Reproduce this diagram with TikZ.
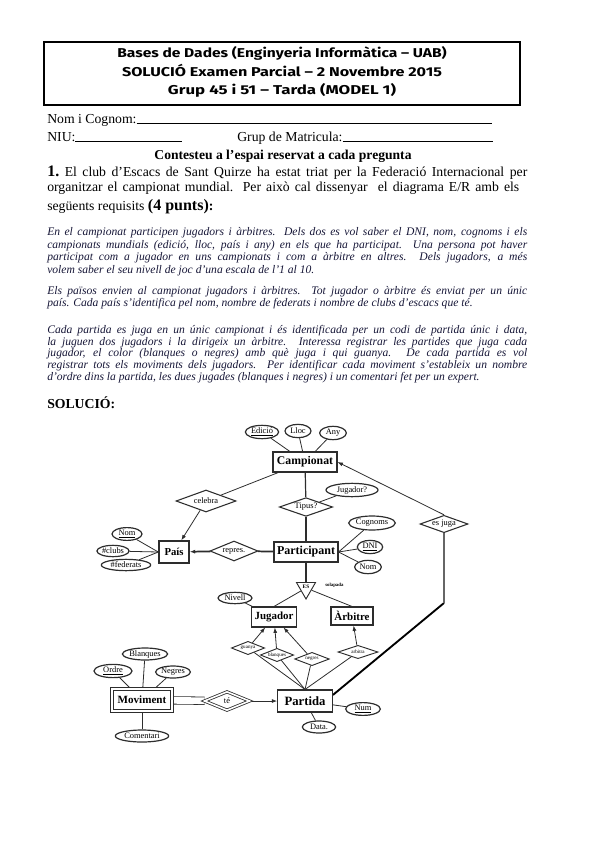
\documentclass[tikz,border=0pt]{standalone}
\usepackage{fontspec}
\setmainfont{Liberation Serif}
\newfontfamily\hdrfont{Fira Sans}
\usetikzlibrary{shapes.geometric,arrows.meta,backgrounds}
\definecolor{itc}{RGB}{22,22,55}
\definecolor{ln}{RGB}{45,45,45}
\begin{document}
\begin{tikzpicture}[x=0.75pt,y=-0.75pt,
  ent/.style={draw=ln, line width=0.8pt, fill=white, rectangle, inner sep=0.5pt},
  attr/.style={draw=ln, line width=0.9pt, fill=white, ellipse, inner sep=0.3pt, font=\fontsize{6.3}{7}\selectfont},
  rel/.style={draw=ln, line width=0.8pt, fill=white, diamond, inner sep=0pt, font=\fontsize{6.3}{7}\selectfont},
  srel/.style={rel, line width=0.7pt, font=\fontsize{3.8}{4}\selectfont, aspect=2.5, minimum height=10pt},
  conn/.style={draw=ln, line width=0.6pt},
  arr/.style={conn, -{Latex[length=4pt,width=3pt]}},
  mtxt/.style={inner sep=0, anchor=base west, font=\fontsize{10.3}{11}\selectfont},
  itl/.style={inner sep=0, anchor=base west, text=itc, font=\fontsize{8.7}{9}\selectfont\itshape},
  hdr/.style={inner sep=0, anchor=base, font=\hdrfont\bfseries\fontsize{9.6}{11}\selectfont},
]
\useasboundingbox (0,0) rectangle (599,848);

% ---------- header ----------
\node[draw, line width=0.8pt, minimum width=357pt, minimum height=47.25pt, inner sep=0] (hbox) at (282,73.5) {};
\node[hdr] (h1) at (282,58) {\resizebox{247pt}{\height}{Bases de Dades (Enginyeria Informàtica – UAB)}};
\node[hdr] (h2) at (282,77) {\resizebox{240pt}{\height}{SOLUCIÓ Examen Parcial – 2 Novembre 2015}};
\node[hdr] (h3) at (282,95) {\resizebox{171pt}{\height}{Grup 45 i 51 – Tarda (MODEL 1)}};

% ---------- form ----------
\node[mtxt] (f1) at (47,124) {\makebox[333.75pt][l]{Nom i Cognom:\hrulefill}};
\node[mtxt] (f2) at (47,142) {\makebox[101.25pt][l]{NIU:\hrulefill}};
\node[mtxt] (f3) at (237,142) {\makebox[192pt][l]{Grup de Matricula:\hrulefill}};
\node[mtxt, anchor=base, font=\fontsize{10.2}{11}\selectfont\bfseries] (f4) at (283,160) {Contesteu a l’espai reservat a cada pregunta};

\node[mtxt] (q1) at (47,177) {\makebox[360pt][s]{{\fontsize{12}{12}\selectfont\bfseries 1.}\ El club d’Escacs de Sant Quirze ha estat triat per la Federació Internacional per}};
\node[mtxt] (q2) at (47,192) {\makebox[354pt][s]{organitzar el campionat mundial. Per això cal dissenyar \ el diagrama E/R amb els}};
\node[mtxt] (q3) at (47,211) {següents requisits {\fontsize{12}{12}\selectfont\bfseries (4 punts)}\textbf{:}};

% ---------- italic requirements ----------
\node[itl] (a1) at (47,236) {\makebox[360pt][s]{En el campionat participen jugadors i àrbitres. Dels dos es vol saber el DNI, nom, cognoms i els}};
\node[itl] (a2) at (47,249) {\makebox[360pt][s]{campionats mundials (edició, lloc, país i any) en els que ha participat. Una persona pot haver}};
\node[itl] (a3) at (47,261) {\makebox[360pt][s]{participat com a jugador en uns campionats i com a àrbitre en altres. Dels jugadors, a més}};
\node[itl] (a4) at (47,273) {volem saber el seu nivell de joc d’una escala de l’1 al 10.};

\node[itl] (b1) at (47,294) {\makebox[360pt][s]{Els països envien al campionat jugadors i àrbitres. Tot jugador o àrbitre és enviat per un únic}};
\node[itl] (b2) at (47,306) {país. Cada país s’identifica pel nom, nombre de federats i nombre de clubs d’escacs que té.};

\node[itl] (c1) at (47,333) {\makebox[360pt][s]{Cada partida es juga en un únic campionat i és identificada per un codi de partida únic i data,}};
\node[itl] (c2) at (47,345) {\makebox[360pt][s]{la juguen dos jugadors i la dirigeix un àrbitre. Interessa registrar les partides que juga cada}};
\node[itl] (c3) at (47,356) {\makebox[360pt][s]{jugador, el color (blanques o negres) amb què juga i qui guanya. De cada partida es vol}};
\node[itl] (c4) at (47,368) {\makebox[360pt][s]{registrar tots els moviments dels jugadors. Per identificar cada moviment s’estableix un nombre}};
\node[itl] (c5) at (47,380) {d’ordre dins la partida, les dues jugades (blanques i negres) i un comentari fet per un expert.};

\node[mtxt, font=\fontsize{10.3}{11}\selectfont\bfseries] (sol) at (47,408) {SOLUCIÓ:};

% ---------- ER diagram: entities ----------
\node[ent, minimum width=48pt, minimum height=15pt, font=\fontsize{8.8}{9}\selectfont\bfseries] (camp) at (305,462) {Campionat};
\node[ent, minimum width=48pt, minimum height=15pt, font=\fontsize{9}{9}\selectfont\bfseries] (part) at (306,552) {Participant};
\node[ent, line width=1.1pt, minimum width=22.5pt, minimum height=16.5pt, font=\fontsize{8}{9}\selectfont\bfseries] (pais) at (174,552) {País};
\node[ent, minimum width=34pt, minimum height=15pt, font=\fontsize{8.2}{9}\selectfont\bfseries] (jug) at (274,617) {Jugador};
\node[ent, minimum width=31.5pt, minimum height=13.5pt, font=\fontsize{8.2}{9}\selectfont\bfseries] (arb) at (352,616) {Àrbitre};
\node[ent, minimum width=41pt, minimum height=16.5pt, font=\fontsize{9.5}{10}\selectfont\bfseries] (partida) at (305,701) {Partida};
\node[ent, double, double distance=1.6pt, line width=0.7pt, minimum width=45pt, minimum height=17pt, font=\fontsize{8.3}{9}\selectfont\bfseries] (mov) at (142,700) {Moviment};

% ---------- relationships ----------
\node[rel, aspect=2.7, minimum width=45pt, minimum height=16.5pt] (celebra) at (206,501) {celebra};
\node[rel, aspect=2.8, minimum width=40pt, minimum height=14pt] (tipus) at (306,507) {Tipus?};
\node[rel, aspect=2.4, minimum width=36pt, minimum height=15pt] (repres) at (234,551) {repres.};
\node[rel, aspect=2.8, minimum width=36pt, minimum height=13pt] (esjuga) at (444,524) {es juga};
\node[rel, double, double distance=1.2pt, line width=0.6pt, aspect=2.3, minimum width=34pt, minimum height=14pt] (te) at (227,701) {té};
\node[srel, minimum width=25pt] (guanya) at (248,648) {guanya};
\node[srel, minimum width=25pt] (blanq) at (277,655) {blanques};
\node[srel, minimum width=26pt] (negr) at (312,659) {negres};
\node[srel, minimum width=30pt, aspect=3] (arbitra) at (358,652) {arbitra};

% ---------- ISA ----------
\node[draw=ln, line width=0.7pt, fill=white, regular polygon, regular polygon sides=3, shape border rotate=180, minimum size=16.5pt, inner sep=0pt, font=\fontsize{4}{4}\selectfont\bfseries] (isa) at (306,588) {\raisebox{1.5pt}{ES}};
\node[inner sep=0, anchor=west, font=\fontsize{3.6}{4}\selectfont\bfseries] (solap) at (325,585) {solapada};

% ---------- attributes ----------
\node[attr, minimum width=25pt, minimum height=10pt] (edicio) at (262,432) {\underline{Edició}};
\node[attr, minimum width=19.5pt, minimum height=10pt] (lloc) at (298,431) {Lloc};
\node[attr, minimum width=20pt, minimum height=10pt] (any) at (333,433) {Any};
\node[attr, minimum width=39pt, minimum height=10pt] (jugq) at (352,490) {Jugador?};
\node[attr, minimum width=34.5pt, minimum height=10.5pt] (cogn) at (372,523) {Cognoms};
\node[attr, minimum width=19pt, minimum height=10pt] (dni) at (370,547) {\underline{DNI}};
\node[attr, minimum width=20pt, minimum height=10pt] (nomp) at (368,567) {Nom};
\node[attr, minimum width=22.5pt, minimum height=8.5pt] (nompais) at (127,534) {\underline{Nom}};
\node[attr, minimum width=23pt, minimum height=8.5pt] (clubs) at (113,551) {\#clubs};
\node[attr, minimum width=37pt, minimum height=8.5pt] (feder) at (126,565) {\#federats};
\node[attr, minimum width=25.5pt, minimum height=8.5pt] (nivell) at (235,598) {Nivell};
\node[attr, minimum width=32pt, minimum height=9pt] (mblanq) at (145,654) {Blanques};
\node[attr, minimum width=28.5pt, minimum height=9pt] (ordre) at (113,671) {\underline{Ordre}};
\node[attr, minimum width=25pt, minimum height=9pt] (mnegr) at (173,672) {Negres};
\node[attr, minimum width=40pt, minimum height=9pt] (coment) at (142,736) {Comentari};
\node[attr, minimum width=26pt, minimum height=9pt] (num) at (363,709) {\underline{Num}};
\node[attr, minimum width=25pt, minimum height=9pt] (data) at (319,727) {Data.};

\coordinate (bend) at (444,603);

% ---------- connectors ----------
\begin{scope}[on background layer]
  \draw[conn] (edicio) -- (camp);
  \draw[conn] (lloc) -- (camp);
  \draw[conn] (any) -- (camp);
  \draw[conn] (camp) -- (celebra);
  \draw[arr] (celebra) -- (pais);
  \draw[conn, line width=0.9pt] (camp) -- (tipus);
  \draw[conn, line width=0.9pt] (tipus) -- (part);
  \draw[conn] (jugq) -- (tipus);
  \draw[conn, line width=1.3pt] (part) -- (repres);
  \draw[arr, line width=1.3pt] (repres) -- (pais);
  \draw[conn] (pais.west) -- (nompais);
  \draw[conn] (pais.west) -- (clubs);
  \draw[conn] (pais.west) -- (feder);
  \draw[conn] (part.east) -- (cogn);
  \draw[conn] (part.east) -- (dni);
  \draw[conn] (part.east) -- (nomp);
  \draw[conn, line width=0.9pt] (part) -- (isa);
  \draw[conn] (isa) -- (jug.north);
  \draw[conn] (isa) -- (arb.north);
  \draw[conn] (nivell) -- (jug);
  \draw[conn] (partida.north) -- (guanya);
  \draw[conn] (partida.north) -- (blanq);
  \draw[conn] (partida.north) -- (negr);
  \draw[conn] (partida.north) -- (arbitra);
  \draw[arr] (guanya) -- (jug);
  \draw[arr] (blanq) -- (jug);
  \draw[arr] (negr) -- (jug);
  \draw[arr] (arbitra) -- (arb);
  \draw[conn, double=white, double distance=5pt] (mov) -- (te);
  \draw[arr] (te) -- (partida);
  \draw[conn] (ordre) -- (mov);
  \draw[conn] (mblanq) -- (mov);
  \draw[conn] (mnegr) -- (mov);
  \draw[conn] (coment) -- (mov);
  \draw[conn] (partida) -- (num);
  \draw[conn] (partida) -- (data);
  \draw[conn, line width=1.4pt, draw=black] ([yshift=4.5pt]partida.east) -- (bend);
  \draw[conn, line width=1pt, draw=black!60] (bend) -- (esjuga.south);
  \draw[arr] (esjuga.north) -- (camp.east);
\end{scope}
\end{tikzpicture}
\end{document}
